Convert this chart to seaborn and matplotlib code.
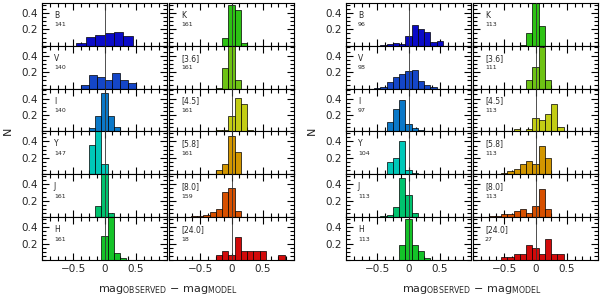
import numpy as np
import pandas as pd
import seaborn as sns
import matplotlib
matplotlib.use("Agg")
import matplotlib.pyplot as plt
from matplotlib.ticker import MultipleLocator

sns.set_style("ticks")
plt.rcParams['font.family'] = ['DejaVu Sans']

bands_left = ["B", "V", "I", "Y", "J", "H"]
bands_right = ["K", "[3.6]", "[4.5]", "[5.8]", "[8.0]", "[24.0]"]
colors_left = ["#0a0ac8", "#1446c8", "#0a78c8", "#00c8b9", "#00c36e", "#14c328"]
colors_right = ["#2dc314", "#6ec314", "#c3cd14", "#d29600", "#d75000", "#d20a0a"]

# ---- left block ----
n1_left = [141, 140, 140, 147, 161, 161]
n1_right = [161, 161, 161, 161, 159, 18]
lo1_left = [-0.45, -0.375, -0.25, -0.25, -0.15, -0.05]
w1_left = [0.15, 0.125, 0.1, 0.1, 0.1, 0.1]
h1_left = [
    [0.035, 0.11, 0.13, 0.15, 0.17, 0.115],
    [0.05, 0.16, 0.14, 0.11, 0.19, 0.11, 0.07],
    [0.045, 0.19, 0.47, 0.19, 0.05],
    [0.36, 0.55, 0.12],
    [0.13, 0.78, 0.05],
    [0.29, 0.61, 0.08, 0.02],
]
lo1_right = [-0.15, -0.25, -0.25, -0.45, -0.65, -0.25]
w1_right = [0.1, 0.1, 0.1, 0.1, 0.1, 0.1]
h1_right = [
    [0.09, 0.49, 0.43, 0.03],
    [0.01, 0.25, 0.62, 0.11],
    [0.02, 0.02, 0.19, 0.41, 0.33, 0.02],
    [0.01, 0.01, 0.05, 0.13, 0.47, 0.27],
    [0.01, 0.015, 0.03, 0.06, 0.10, 0.30, 0.36, 0.08],
    [0.056, 0.111, 0.056, 0.278, 0.111, 0.111, 0.111, 0.111, 0.0, 0.0, 0.056],
]

# ---- right block ----
n2_left = [96, 98, 97, 104, 113, 113]
n2_right = [113, 111, 113, 113, 113, 27]
lo2_left = [-0.45, -0.55, -0.55, -0.55, -0.45, -0.15]
w2_left = [0.1, 0.1, 0.1, 0.1, 0.1, 0.1]
h2_left = [
    [0.01, 0.02, 0.035, 0.02, 0.12, 0.25, 0.21, 0.17, 0.05, 0.06],
    [0.01, 0.02, 0.08, 0.14, 0.18, 0.22, 0.23, 0.09, 0.04, 0.02],
    [0.01, 0.0, 0.12, 0.27, 0.38, 0.09, 0.04, 0.02],
    [0.01, 0.01, 0.15, 0.20, 0.41, 0.05, 0.015],
    [0.01, 0.03, 0.12, 0.48, 0.27, 0.045],
    [0.18, 0.50, 0.18, 0.11, 0.02],
]
lo2_right = [-0.25, -0.15, -0.35, -0.55, -0.75, -0.55]
w2_right = [0.1, 0.1, 0.1, 0.1, 0.1, 0.1]
h2_right = [
    [0.015, 0.15, 0.6, 0.24],
    [0.11, 0.26, 0.5, 0.11],
    [0.03, 0.0, 0.03, 0.16, 0.14, 0.21, 0.33, 0.05],
    [0.015, 0.035, 0.065, 0.12, 0.16, 0.12, 0.34, 0.2],
    [0.01, 0.02, 0.04, 0.035, 0.075, 0.095, 0.05, 0.14, 0.34, 0.1],
    [0.037, 0.037, 0.074, 0.074, 0.185, 0.148, 0.074, 0.259, 0.074, 0.074],
]

W, H = 600, 297
fig = plt.figure(figsize=(W / 100, H / 100), dpi=100)

row_top, row_bot = 3, 260
row_h = (row_bot - row_top) / 6
col_w = 125
blocks = [
    ([42, 169], [(lo1_left, w1_left, h1_left, n1_left), (lo1_right, w1_right, h1_right, n1_right)]),
    ([346, 473], [(lo2_left, w2_left, h2_left, n2_left), (lo2_right, w2_right, h2_right, n2_right)]),
]


def draw_panel(ax, lo, w, hts, color, band, n, first_col, last_row):
    edges = [lo + w * i for i in range(len(hts) + 1)]
    df = pd.DataFrame({"dmag": [e + w / 2 for e in edges[:-1]], "frac": hts})
    sns.histplot(data=df, x="dmag", weights="frac", bins=edges, ax=ax,
                 color=color, edgecolor="black", linewidth=0.5, alpha=1.0)
    ax.axvline(0, color="0.2", lw=0.6, zorder=5)
    ax.set_xlim(-1.0, 1.0)
    ax.set_ylim(0, 0.52)
    ax.set_xlabel("")
    ax.set_ylabel("")
    ax.set_xticks([-0.5, 0, 0.5])
    ax.xaxis.set_minor_locator(MultipleLocator(0.125))
    ax.set_yticks([0.2, 0.4])
    ax.yaxis.set_minor_locator(MultipleLocator(0.05))
    ax.tick_params(which="both", direction="in", top=True, right=True,
                   width=0.8, labelsize=7.5, pad=3, color="black")
    ax.tick_params(which="major", length=5)
    ax.tick_params(which="minor", length=3)
    if last_row:
        ax.set_xticklabels(["\u22120.5", "0", "0.5"])
    else:
        ax.set_xticklabels([])
    if first_col:
        ax.set_yticklabels(["0.2", "0.4"])
    else:
        ax.set_yticklabels([])
    for s in ax.spines.values():
        s.set_linewidth(0.8)
        s.set_color("black")
    ax.text(0.095, 0.71, band, transform=ax.transAxes, fontsize=5.5,
            va="center", ha="left")
    ax.text(0.095, 0.49, str(n), transform=ax.transAxes, fontsize=4.5,
            va="center", ha="left")


for xs, cols in blocks:
    for c, (lo_l, w_l, h_l, n_l) in enumerate(cols):
        bands = bands_left if c == 0 else bands_right
        colors = colors_left if c == 0 else colors_right
        for r in range(6):
            y1 = row_top + (r + 1) * row_h
            ax = fig.add_axes([xs[c] / W, 1 - y1 / H, col_w / W, row_h / H])
            draw_panel(ax, lo_l[r], w_l[r], h_l[r], colors[r], bands[r], n_l[r],
                       c == 0, r == 5)
    xmid = (xs[0] + xs[1] + col_w) / 2
    fig.text(xmid / W, 1 - 290 / H,
             r"mag$_{\rm OBSERVED}$ $-$ mag$_{\rm MODEL}$",
             ha="center", va="center", fontsize=8)
    fig.text((xs[0] - 34) / W, 1 - 131 / H, "N", rotation=90,
             ha="center", va="center", fontsize=8)

fig.savefig("out.png", dpi=100)
